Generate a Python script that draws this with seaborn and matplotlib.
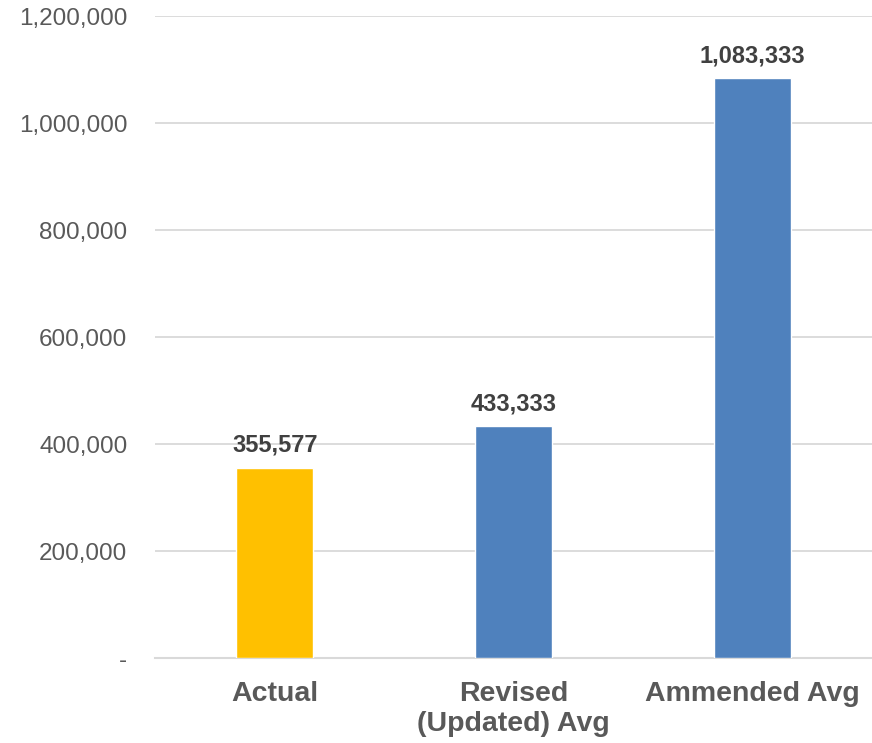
import matplotlib
matplotlib.use('Agg')
import matplotlib.pyplot as plt
import seaborn as sns
import pandas as pd

categories = ['Actual', 'Revised\n(Updated) Avg', 'Ammended Avg']
values = [355577, 433333, 1083333]
bar_colors = ['#FFC000', '#4F81BD', '#4F81BD']
y_ticks = [0, 200000, 400000, 600000, 800000, 1000000, 1200000]

df = pd.DataFrame({'category': categories, 'value': values})

sns.set_style('white')
plt.rcParams['font.family'] = ['Liberation Sans', 'DejaVu Sans']

fig = plt.figure(figsize=(8.72, 7.43), dpi=100)
ax = fig.add_axes([0.178, 0.1144, 0.822, 0.864])

sns.barplot(data=df, x='category', y='value', hue='category',
            palette=bar_colors, width=0.32, legend=False, ax=ax,
            saturation=1, zorder=3)

ax.set_ylim(0, 1200000)
ax.set_xlim(-0.5, 2.5)
ax.set_yticks(y_ticks)
ax.set_yticklabels(['-' if v == 0 else f'{v:,}' for v in y_ticks])
ax.yaxis.grid(True, color='#D9D9D9', linewidth=1.3, zorder=0)
ax.set_axisbelow(True)

for s in ['top', 'right', 'left']:
    ax.spines[s].set_visible(False)
ax.spines['bottom'].set_color('#D9D9D9')
ax.spines['bottom'].set_linewidth(1.5)

ax.tick_params(axis='y', length=0, pad=20, labelsize=17.5, labelcolor='#595959')
ax.tick_params(axis='x', length=0, pad=16.5, labelsize=20.5, labelcolor='#595959')
for lbl in ax.get_xticklabels():
    lbl.set_fontweight('bold')
    lbl.set_linespacing(1.22)

ax.set_xlabel('')
ax.set_ylabel('')

for i, v in enumerate(values):
    ax.annotate(f'{v:,}', (i, v), xytext=(0, 8), textcoords='offset points',
                ha='center', va='bottom', fontsize=17, fontweight='bold',
                color='#404040')

plt.savefig('out.png', dpi=100)
